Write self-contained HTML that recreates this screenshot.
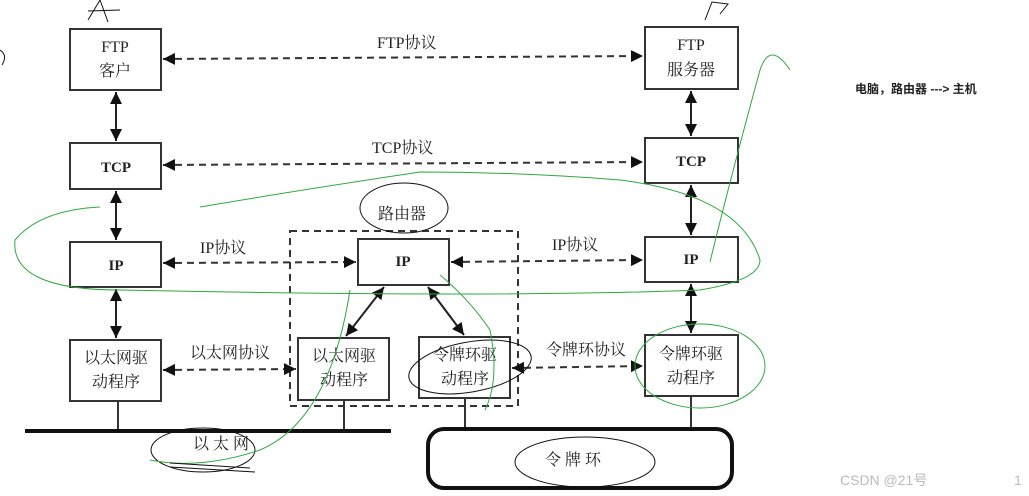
<!DOCTYPE html>
<html><head><meta charset="utf-8"><style>
body{margin:0;background:#fff}
svg{display:block}
text{font-family:"Liberation Serif","Noto Serif CJK SC",serif;fill:#222}
.b{fill:#fff;stroke:#333;stroke-width:2}
.d{stroke:#333;stroke-width:2;stroke-dasharray:7,5;fill:none}
.s{stroke:#222;stroke-width:2;fill:none}
.g{stroke:#2eaa3c;stroke-width:1;fill:none}
.k{stroke:#111;stroke-width:1;fill:none}
</style></head><body>
<svg width="1029" height="496" viewBox="0 0 1029 496">
<defs><marker id="a" viewBox="0 0 10 10" refX="10" refY="5" markerWidth="6" markerHeight="6" orient="auto-start-reverse"><path d="M0,0L10,5L0,10z" fill="#111"/></marker></defs>
<!-- dashed router box -->
<rect x="290" y="231" width="228" height="175" class="d"/>
<!-- boxes left -->
<rect x="70" y="29" width="91" height="61" class="b"/>
<text x="115" y="52" font-size="16" text-anchor="middle">FTP</text>
<text x="115" y="76" font-size="16" text-anchor="middle">客户</text>
<rect x="70" y="143" width="91" height="46" class="b"/>
<text x="116" y="172" font-size="15" font-weight="bold" text-anchor="middle">TCP</text>
<rect x="70" y="242" width="91" height="45" class="b"/>
<text x="116" y="270" font-size="15" font-weight="bold" text-anchor="middle">IP</text>
<rect x="70" y="340" width="91" height="61" class="b"/>
<text x="116" y="363" font-size="16" text-anchor="middle">以太网驱</text>
<text x="116" y="387" font-size="16" text-anchor="middle">动程序</text>
<!-- right -->
<rect x="645" y="27" width="93" height="62" class="b"/>
<text x="691" y="50" font-size="16" text-anchor="middle">FTP</text>
<text x="691" y="75" font-size="16" text-anchor="middle">服务器</text>
<rect x="645" y="138" width="93" height="45" class="b"/>
<text x="691" y="166" font-size="15" font-weight="bold" text-anchor="middle">TCP</text>
<rect x="645" y="237" width="93" height="45" class="b"/>
<text x="691" y="264" font-size="15" font-weight="bold" text-anchor="middle">IP</text>
<rect x="645" y="335" width="93" height="61" class="b"/>
<text x="691" y="359" font-size="16" text-anchor="middle">令牌环驱</text>
<text x="691" y="383" font-size="16" text-anchor="middle">动程序</text>
<!-- router -->
<rect x="358" y="239" width="91" height="46" class="b"/>
<text x="403" y="266" font-size="15" font-weight="bold" text-anchor="middle">IP</text>
<rect x="298" y="338" width="91" height="62" class="b"/>
<text x="344" y="361" font-size="16" text-anchor="middle">以太网驱</text>
<text x="344" y="385" font-size="16" text-anchor="middle">动程序</text>
<rect x="419" y="337" width="91" height="61" class="b"/>
<text x="465" y="360" font-size="16" text-anchor="middle">令牌环驱</text>
<text x="465" y="384" font-size="16" text-anchor="middle">动程序</text>
<!-- vertical arrows -->
<line x1="116" y1="92" x2="116" y2="141" class="s" marker-start="url(#a)" marker-end="url(#a)"/>
<line x1="116" y1="191" x2="116" y2="240" class="s" marker-start="url(#a)" marker-end="url(#a)"/>
<line x1="116" y1="289" x2="116" y2="338" class="s" marker-start="url(#a)" marker-end="url(#a)"/>
<line x1="691" y1="91" x2="691" y2="136" class="s" marker-start="url(#a)" marker-end="url(#a)"/>
<line x1="691" y1="185" x2="691" y2="235" class="s" marker-start="url(#a)" marker-end="url(#a)"/>
<line x1="691" y1="284" x2="691" y2="333" class="s" marker-start="url(#a)" marker-end="url(#a)"/>
<line x1="384" y1="287" x2="346" y2="336" class="s" marker-start="url(#a)" marker-end="url(#a)"/>
<line x1="428" y1="287" x2="464" y2="335" class="s" marker-start="url(#a)" marker-end="url(#a)"/>
<!-- dashed horizontal -->
<line x1="163" y1="59" x2="643" y2="56" class="d" marker-start="url(#a)" marker-end="url(#a)"/>
<text x="377" y="48" font-size="16">FTP协议</text>
<line x1="163" y1="165" x2="643" y2="162" class="d" marker-start="url(#a)" marker-end="url(#a)"/>
<text x="372" y="153" font-size="16">TCP协议</text>
<line x1="163" y1="263" x2="356" y2="262" class="d" marker-start="url(#a)" marker-end="url(#a)"/>
<text x="200" y="253" font-size="16">IP协议</text>
<line x1="451" y1="262" x2="643" y2="260" class="d" marker-start="url(#a)" marker-end="url(#a)"/>
<text x="552" y="250" font-size="16">IP协议</text>
<line x1="163" y1="370" x2="296" y2="369" class="d" marker-start="url(#a)" marker-end="url(#a)"/>
<text x="190" y="358" font-size="16">以太网协议</text>
<line x1="512" y1="368" x2="643" y2="366" class="d" marker-start="url(#a)" marker-end="url(#a)"/>
<text x="546" y="355" font-size="16">令牌环协议</text>
<text x="378" y="219" font-size="16">路由器</text>
<!-- networks -->
<line x1="118" y1="401" x2="118" y2="431" stroke="#333" stroke-width="2"/>
<line x1="344" y1="400" x2="344" y2="431" stroke="#333" stroke-width="2"/>
<line x1="465" y1="398" x2="465" y2="428" stroke="#333" stroke-width="2"/>
<line x1="691" y1="396" x2="691" y2="428" stroke="#333" stroke-width="2"/>
<line x1="25" y1="431" x2="391" y2="431" stroke="#111" stroke-width="4"/>
<text x="193" y="449" font-size="16">以 太 网</text>
<rect x="428" y="429" width="304" height="59" rx="16" fill="none" stroke="#111" stroke-width="4"/>
<text x="545" y="465" font-size="16">令   牌   环</text>
<!-- annotations -->
<text x="855" y="93" font-size="12" font-weight="bold" style="font-family:'Liberation Sans','Noto Sans CJK SC',sans-serif" fill="#000">电脑，路由器 ---&gt; 主机</text>
<text x="840" y="485" font-size="14" style="font-family:'Liberation Sans','Noto Sans CJK SC',sans-serif;fill:#bbb">CSDN @21号</text>
<text x="1014" y="485" font-size="14" style="font-family:'Liberation Sans',sans-serif;fill:#bbb">1</text>
<path d="M88,20L100,0M100,0L108,22M88,11L120,10" class="k"/>
<path d="M705,20L712,2L728,4L720,14" class="k"/>
<path d="M0,50Q8,55 2,65" class="k"/>
<ellipse cx="404" cy="208" rx="44" ry="25" class="k"/>
<ellipse cx="203" cy="450" rx="52" ry="22" class="k"/>
<ellipse cx="470" cy="367" rx="62" ry="25" class="k" transform="rotate(-10 470 367)"/>
<ellipse cx="585" cy="462" rx="70" ry="25" class="k"/>
<path d="M100,207Q40,210 15,240Q10,290 120,290Q500,298 700,290Q760,280 760,260Q740,195 620,180Q520,172 420,172Q300,190 200,207" class="g"/>
<path d="M710,262Q730,180 760,70Q770,40 790,70" class="g"/>
<ellipse cx="700" cy="366" rx="65" ry="42" class="g"/>
<path d="M350,290Q330,420 260,450Q200,470 150,460" class="g"/>
<path d="M440,275Q470,300 490,330Q500,380 485,410" class="g"/>
<path d="M170,463L250,468M170,467L255,472" class="k"/>
</svg>
</body></html>
